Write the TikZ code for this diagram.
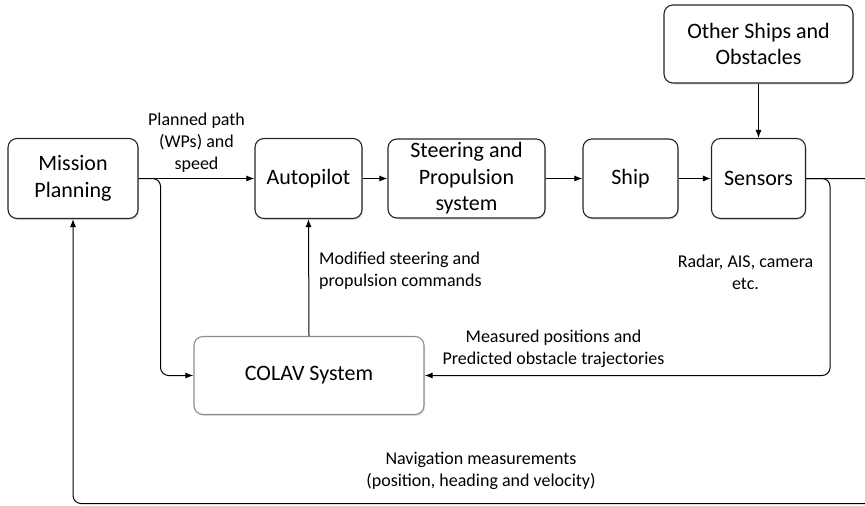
\documentclass[tikz,border=0pt]{standalone}
\usepackage{fontspec}
\setmainfont{Carlito}
\usetikzlibrary{arrows.meta,shadows}
\begin{document}
\begin{tikzpicture}[x=1pt,y=-1pt,
  block/.style={draw=black!85, line width=1.1pt, rounded corners=9pt, fill=white,
    align=center, inner sep=0pt, font=\fontsize{22}{26.5}\selectfont,
    drop shadow={shadow xshift=1pt, shadow yshift=-1.5pt, opacity=0.25}},
  softblock/.style={block, draw=black!45},
  wire/.style={line width=1pt, rounded corners=8pt},
  arr/.style={wire, -{Latex[length=8pt,width=6pt]}},
  lbl/.style={font=\fontsize{18}{22}\selectfont, align=center, inner sep=0pt}]

\useasboundingbox (0,0) rectangle (865,506);

% blocks
\node[block, minimum width=130pt, minimum height=80pt] (mission) at (73,178.5) {Mission\\Planning};
\node[block, minimum width=107pt, minimum height=80pt] (autopilot) at (308.5,178.5) {Autopilot};
\node[block, minimum width=157pt, minimum height=79pt] (steering) at (466.5,178.5) {Steering and\\Propulsion\\system};
\node[block, minimum width=95pt, minimum height=79pt] (ship) at (630.5,178.5) {Ship};
\node[block, minimum width=94pt, minimum height=80pt] (sensors) at (758.5,178.5) {Sensors};
\node[block, minimum width=189pt, minimum height=78pt] (other) at (758.5,44) {Other Ships and\\Obstacles};
\node[softblock, minimum width=230pt, minimum height=78pt] (colav) at (309,375.5) {COLAV System};

% return route running past the right edge of the page
\coordinate (outtop) at (885,178.5);
\coordinate (outbot) at (885,503.5);

% main signal chain
\draw[arr] (mission) -- (autopilot);
\draw[arr] (autopilot) -- (steering);
\draw[arr] (steering) -- (ship);
\draw[arr] (ship) -- (sensors);
\draw[arr] (other) -- (sensors);

% COLAV loop
\draw[arr] (mission.east) -- ++(22,0) |- (colav.west);
\draw[arr] (colav.north) -- (autopilot.south);
\draw[arr] (sensors.east) -- ++(24,0) |- (colav.east);

% navigation feedback
\draw[arr] (sensors.east) -- (outtop) -- (outbot) -| (mission.south);

% labels
\node[lbl] (lplan) at (196.5,143) {Planned path\\(WPs) and\\speed};
\node[lbl, align=left, anchor=west] (lmod) at (319,271) {Modified steering and\\propulsion commands};
\node[lbl] (lradar) at (745.5,272) {Radar, AIS, camera\\etc.};
\node[lbl] (lmeas) at (553.5,349) {Measured positions and\\Predicted obstacle trajectories};
\node[lbl] (lnav) at (481,471) {Navigation measurements\\(position, heading and velocity)};
\end{tikzpicture}
\end{document}
